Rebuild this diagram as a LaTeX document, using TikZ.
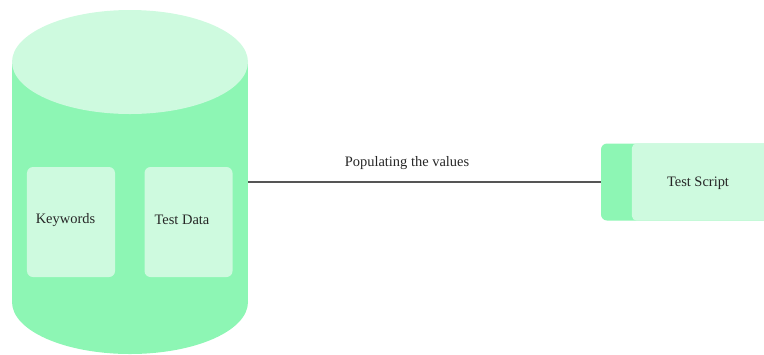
\documentclass[tikz,border=0pt]{standalone}
\usepackage{fontspec}
\setmainfont{Liberation Serif}
\definecolor{dbgreen}{HTML}{8DF6B4}
\definecolor{dblight}{HTML}{CEFADF}
\definecolor{wire}{HTML}{555555}
\begin{document}
\begin{tikzpicture}[x=1bp,y=-1bp,
    font=\fontsize{14.5}{17}\selectfont,
    panel/.style={rectangle, fill=dblight, rounded corners=6bp,
      minimum width=88bp, minimum height=110bp, inner sep=0pt},
    paneltext/.style={text=black!85, inner sep=0pt},
    scriptbox/.style={rectangle, fill=dbgreen, rounded corners=6bp,
      minimum width=170bp, minimum height=77bp, inner sep=0pt},
    wirelabel/.style={text=black!85, inner sep=0pt}]
    \useasboundingbox (0,0) rectangle (764,354);
    \clip (0,0) rectangle (764,354);

    % Draw database cylinder
    \fill[dbgreen] (12,62) rectangle (248,302);
    \fill[dbgreen] (130,302) ellipse (118 and 52);
    \fill[dblight] (130,62) ellipse (118 and 52);
    \coordinate (db) at (248,182);

    % Draw panels inside
    \node[panel] (keywords) at (71,222) {};
    \node[paneltext] at (65.5,220) {Keywords};
    \node[panel] (testdata) at (188.5,222) {};
    \node[paneltext] at (182,220) {Test Data};

    % Draw test script box
    \node[scriptbox] (script) at (686,182) {};
    \fill[dblight, rounded corners=5bp] ([xshift=31bp]script.north west) rectangle (script.south east);
    \node[paneltext] (scriptlabel) at (698,183) {Test Script};

    % Draw connector
    \draw[wire, line width=1.6bp] (db) -- (script.west);
    \node[wirelabel] (populate) at (407,163) {Populating the values};
\end{tikzpicture}
\end{document}
